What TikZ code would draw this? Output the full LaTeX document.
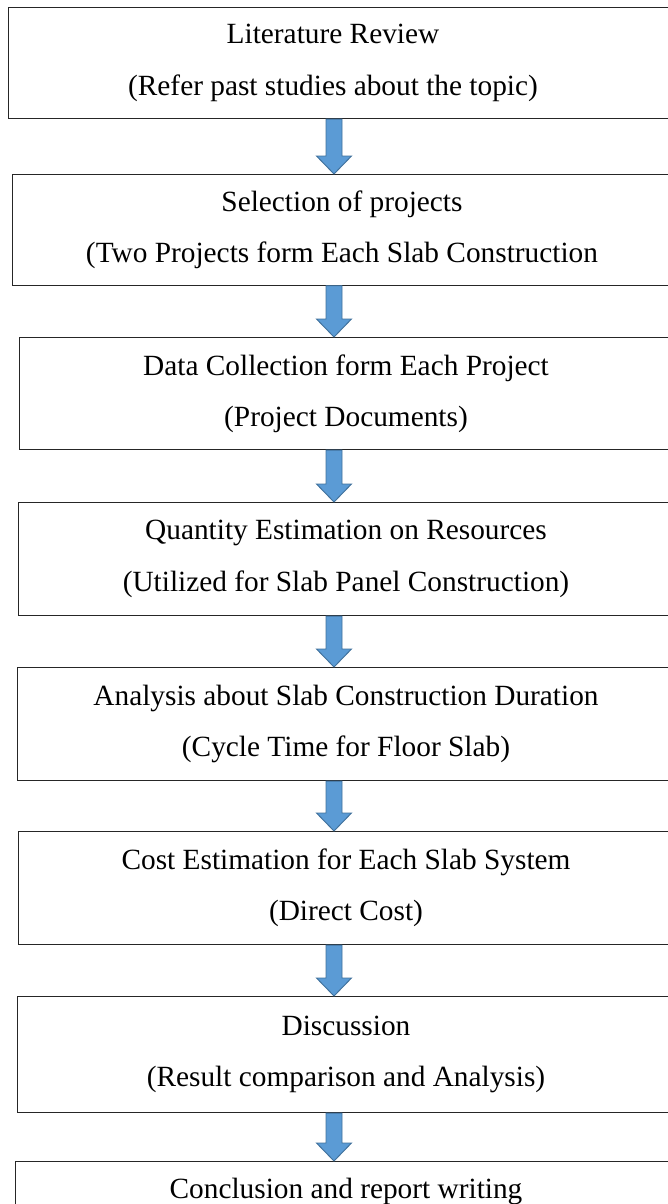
\documentclass[tikz,border=0pt]{standalone}
\usepackage{fontspec}
\setmainfont{Liberation Serif}
\usetikzlibrary{calc}
\definecolor{arrowblue}{HTML}{5B9BD5}
\definecolor{arrowedge}{HTML}{41719C}
\tikzset{
  stepbox/.style={draw=black!85,line width=0.8pt,anchor=north west,inner sep=0pt,
    minimum width=540pt,minimum height=84pt},
  steptext/.style={align=center,inner sep=0pt,font=\fontsize{22pt}{38.5pt}\selectfont},
  flowarrow/.style={fill=arrowblue,draw=arrowedge,line width=0.7pt,line join=miter}
}
\begin{document}
\begin{tikzpicture}[x=0.75pt,y=-0.75pt]
\useasboundingbox(0,0)rectangle(668,1204);
\clip(0,0)rectangle(668,1204);
\coordinate(axis)at(334,0);
% steps
\node[stepbox,minimum height=83.25pt](b1)at(8,7){};
\node[steptext](t1)at($(b1.west)+(325,0)$){Literature Review\\(Refer past studies about the topic)};
\node[stepbox,minimum height=83pt](b2)at(12,174){};
\node[steptext](t2)at($(b2.west)+(330,0)$){Selection of projects\\(Two Projects form Each Slab Construction};
\node[stepbox](b3)at(19,337){};
\node[steptext](t3)at($(b3.west)+(327,0)$){Data Collection form Each Project\\(Project Documents)};
\node[stepbox,minimum height=84.75pt](b4)at(18,502){};
\node[steptext](t4)at($(b4.west)+(328,0)$){Quantity Estimation on Resources\\(Utilized for Slab Panel Construction)};
\node[stepbox,minimum height=84.75pt](b5)at(17,667){};
\node[steptext](t5)at($(b5.west)+(329,0)$){Analysis about Slab Construction Duration\\(Cycle Time for Floor Slab)};
\node[stepbox,minimum height=84.75pt](b6)at(18,831){};
\node[steptext](t6)at($(b6.west)+(328,0)$){Cost Estimation for Each Slab System\\(Direct Cost)};
\node[stepbox,minimum height=87pt](b7)at(17,996){};
\node[steptext](t7)at($(b7.west)+(329,0)$){Discussion\\(Result comparison and Analysis)};
\node[stepbox,minimum height=120pt](b8)at(15,1161){};
\node[steptext,anchor=base](t8)at($(b8.north west)+(331,37)$){Conclusion and report writing};
% block arrows
\foreach \i [evaluate=\i as \j using int(\i+1)] in {1,...,7}
  \draw[flowarrow]($(b\i.south -| axis)+(-8,0)$)--($(b\j.north -| axis)+(-8,-18)$)--++(-9.5,0)
    --(b\j.north -| axis)--($(b\j.north -| axis)+(17.5,-18)$)--++(-9.5,0)
    --($(b\i.south -| axis)+(8,0)$)--cycle;
\end{tikzpicture}
\end{document}
